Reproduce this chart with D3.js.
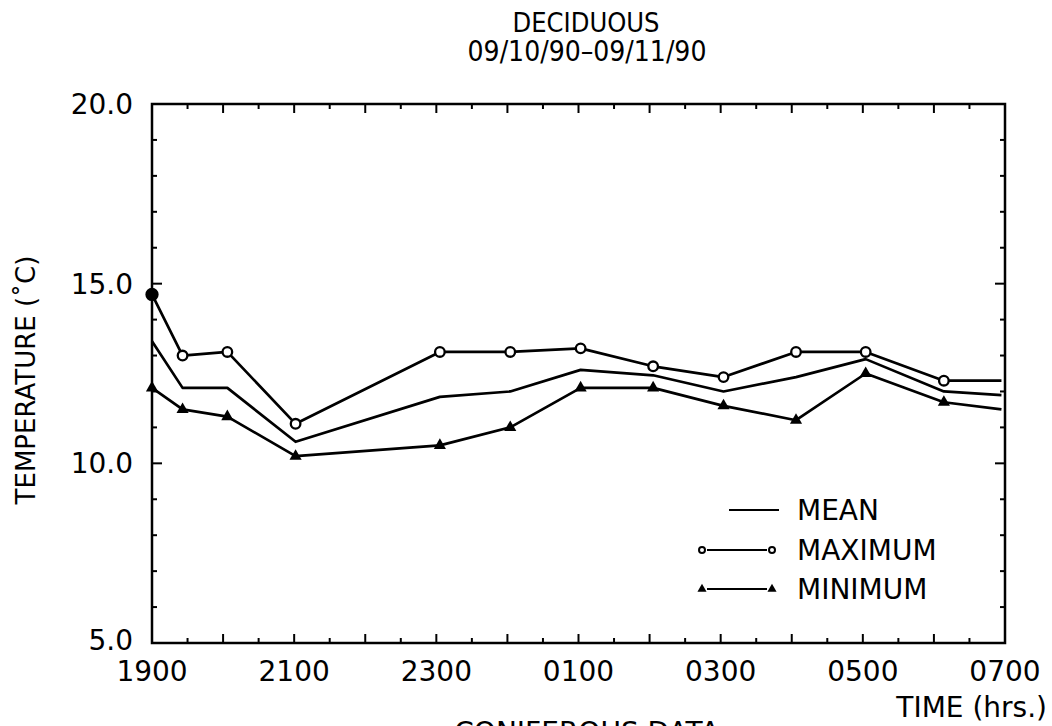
<!DOCTYPE html>
<html>
<head>
<meta charset="utf-8">
<script src="https://cdn.jsdelivr.net/npm/d3@7"></script>
<style>
  html, body { margin: 0; padding: 0; background: #fff; }
  svg { display: block; }
  text { fill: #000; }
</style>
</head>
<body>
<svg id="chart"></svg>
<script>
(() => {
  // hours after 1900 on 09/10/90
  const hoursAfter1900 = [0, 0.43, 1.06, 2.02, 4.05, 5.04, 6.03, 7.05, 8.04, 9.06, 10.04, 11.14, 11.95];
  const meanTemp = [13.4, 12.1, 12.1, 10.6, 11.85, 12.0, 12.6, 12.45, 12.0, 12.4, 12.9, 12.0, 11.9];
  const maxTemp  = [14.7, 13.0, 13.1, 11.1, 13.1, 13.1, 13.2, 12.7, 12.4, 13.1, 13.1, 12.3, 12.3];
  const minTemp  = [12.1, 11.5, 11.3, 10.2, 10.5, 11.0, 12.1, 12.1, 11.6, 11.2, 12.5, 11.7, 11.5];

  const xTickHours  = [0, 2, 4, 6, 8, 10, 12];
  const xTickLabels = ["1900", "2100", "2300", "0100", "0300", "0500", "0700"];
  const yTickValues = [5, 10, 15, 20];

  const legendItems = ["MEAN", "MAXIMUM", "MINIMUM"];

  const width = 1052, height = 726;
  const margin = { top: 104, right: 47, bottom: 83, left: 152 };
  const innerW = width - margin.left - margin.right;
  const innerH = height - margin.top - margin.bottom;

  const FONT = "'DejaVu Sans', sans-serif";
  const FONT_C = "'DejaVu Sans Condensed', 'DejaVu Sans', sans-serif";

  const svgRoot = d3.select("#chart")
    .attr("width", width)
    .attr("height", height)
    .attr("viewBox", [0, 0, width, height]);

  const svg = svgRoot.append("g")
    .attr("transform", `translate(${margin.left},${margin.top})`);

  const x = d3.scaleLinear().domain([0, 12]).range([0, innerW]);
  const y = d3.scaleLinear().domain([5, 20]).range([innerH, 0]);

  // frame
  svg.append("rect")
    .attr("width", innerW).attr("height", innerH)
    .attr("fill", "none").attr("stroke", "#000").attr("stroke-width", 2.5);

  // inward ticks on all four sides
  const halfHours = d3.range(1, 24).map(d => d / 2);
  const degrees = d3.range(6, 20);
  const tickG = svg.append("g").attr("stroke", "#000").attr("stroke-width", 2);

  halfHours.forEach(h => {
    const len = Number.isInteger(h) ? 9 : 5;
    tickG.append("line").attr("x1", x(h)).attr("x2", x(h)).attr("y1", innerH).attr("y2", innerH - len);
    tickG.append("line").attr("x1", x(h)).attr("x2", x(h)).attr("y1", 0).attr("y2", len);
  });
  degrees.forEach(v => {
    const len = v % 5 === 0 ? 10 : 5;
    tickG.append("line").attr("x1", 0).attr("x2", len).attr("y1", y(v)).attr("y2", y(v));
    tickG.append("line").attr("x1", innerW).attr("x2", innerW - len).attr("y1", y(v)).attr("y2", y(v));
  });

  // tick labels
  svg.append("g").selectAll("text")
    .data(xTickHours)
    .join("text")
    .attr("x", d => x(d))
    .attr("y", innerH + 38)
    .attr("text-anchor", "middle")
    .style("font", `28px ${FONT}`)
    .text((d, i) => xTickLabels[i]);

  svg.append("g").selectAll("text")
    .data(yTickValues)
    .join("text")
    .attr("x", -19)
    .attr("y", d => y(d) + (d === 5 ? -3 : 0))
    .attr("dy", "0.36em")
    .attr("text-anchor", "end")
    .style("font", `28px ${FONT}`)
    .text(d => d3.format(".1f")(d));

  // axis titles
  svgRoot.append("text")
    .attr("transform", `translate(35,380) rotate(-90)`)
    .attr("text-anchor", "middle")
    .style("font", `26px ${FONT}`)
    .text("TEMPERATURE (˚C)");

  svgRoot.append("text")
    .attr("x", 1047).attr("y", 717)
    .attr("text-anchor", "end")
    .style("font", `28px ${FONT}`)
    .text("TIME (hrs.)");

  // titles
  svgRoot.append("text")
    .attr("x", 586).attr("y", 32)
    .attr("text-anchor", "middle")
    .style("font", `27px ${FONT_C}`)
    .text("DECIDUOUS");

  svgRoot.append("text")
    .attr("x", 587).attr("y", 61)
    .attr("text-anchor", "middle")
    .style("font", `28px ${FONT_C}`)
    .text("09/10/90–09/11/90");

  svgRoot.append("text")
    .attr("x", 587).attr("y", 742)
    .attr("text-anchor", "middle")
    .style("font", `28px ${FONT}`)
    .text("CONIFEROUS DATA");

  // series
  const toPoints = vals => vals.map((v, i) => ({ t: hoursAfter1900[i], v, i }));
  const line = d3.line().x(d => x(d.t)).y(d => y(d.v));
  const series = [toPoints(meanTemp), toPoints(maxTemp), toPoints(minTemp)];

  svg.append("g").selectAll("path")
    .data(series)
    .join("path")
    .attr("d", line)
    .attr("fill", "none")
    .attr("stroke", "#000")
    .attr("stroke-width", 2.7)
    .attr("stroke-linejoin", "round");

  const last = hoursAfter1900.length - 1;

  // maximum: open circles (first reading drawn solid)
  svg.append("g").selectAll("circle")
    .data(series[1].filter(d => d.i < last))
    .join("circle")
    .attr("cx", d => x(d.t))
    .attr("cy", d => y(d.v))
    .attr("r", d => d.i === 0 ? 5.5 : 4.8)
    .attr("fill", d => d.i === 0 ? "#000" : "#fff")
    .attr("stroke", "#000")
    .attr("stroke-width", 2.3);

  // minimum: filled triangles
  const tri = d3.symbol().type(d3.symbolTriangle).size(64);
  svg.append("g").selectAll("path")
    .data(series[2].filter(d => d.i < last))
    .join("path")
    .attr("d", tri)
    .attr("transform", d => `translate(${x(d.t)},${y(d.v)})`)
    .attr("fill", "#000");

  // legend
  const legRows = [510, 550, 589];
  const leg = svgRoot.append("g");
  leg.append("line")
    .attr("x1", 729).attr("x2", 779).attr("y1", legRows[0]).attr("y2", legRows[0])
    .attr("stroke", "#000").attr("stroke-width", 2);
  [1, 2].forEach(k => {
    leg.append("line")
      .attr("x1", 707).attr("x2", 767).attr("y1", legRows[k]).attr("y2", legRows[k])
      .attr("stroke", "#000").attr("stroke-width", 2);
    [702, 772].forEach(cx => {
      if (k === 1) {
        leg.append("circle").attr("cx", cx).attr("cy", legRows[k]).attr("r", 3)
          .attr("fill", "#fff").attr("stroke", "#000").attr("stroke-width", 2);
      } else {
        leg.append("path").attr("d", d3.symbol().type(d3.symbolTriangle).size(36))
          .attr("transform", `translate(${cx},${legRows[k]})`).attr("fill", "#000");
      }
    });
  });
  leg.selectAll("text")
    .data(legendItems)
    .join("text")
    .attr("x", 797)
    .attr("y", (d, i) => legRows[i])
    .attr("dy", "0.36em")
    .style("font", `28px ${FONT}`)
    .text(d => d);
})();
</script>
</body>
</html>
